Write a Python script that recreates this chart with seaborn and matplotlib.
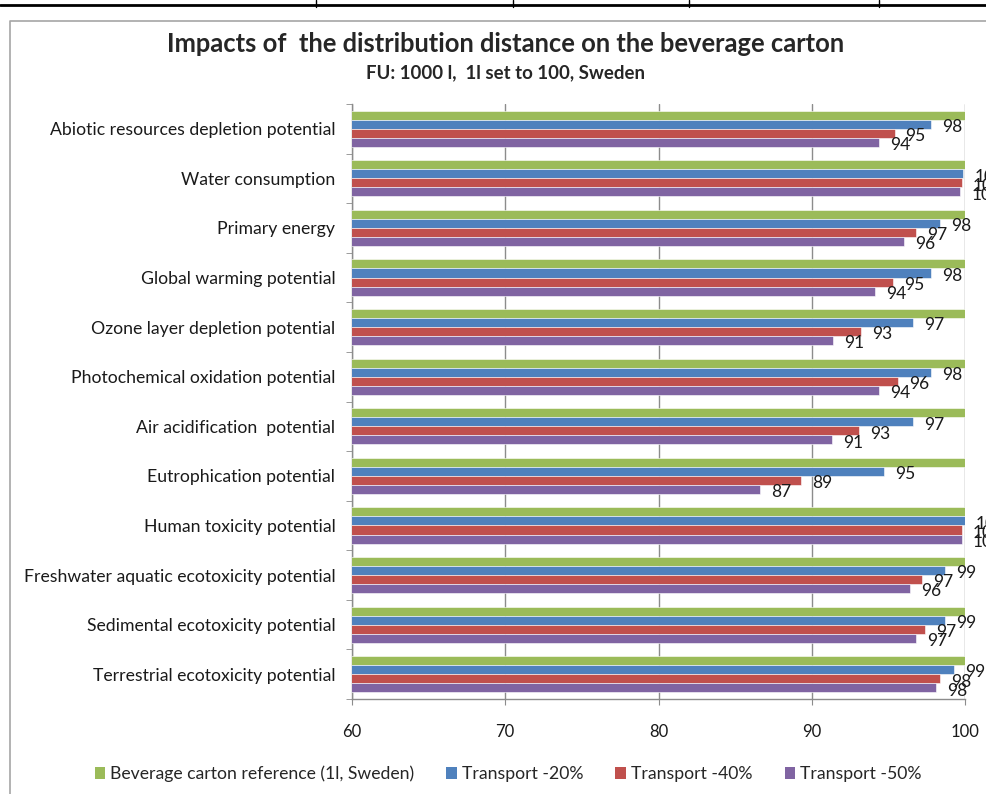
import numpy as np
import pandas as pd
import matplotlib
matplotlib.use("Agg")
import matplotlib.pyplot as plt
from matplotlib import font_manager
from matplotlib.lines import Line2D
from matplotlib.patches import Rectangle
import seaborn as sns

#%% Dados
categorias = [
    "Abiotic resources depletion potential",
    "Water consumption",
    "Primary energy",
    "Global warming potential",
    "Ozone layer depletion potential",
    "Photochemical oxidation potential",
    "Air acidification  potential",
    "Eutrophication potential",
    "Human toxicity potential",
    "Freshwater aquatic ecotoxicity potential",
    "Sedimental ecotoxicity potential",
    "Terrestrial ecotoxicity potential",
]
series = [
    "Beverage carton reference (1l, Sweden)",
    "Transport -20%",
    "Transport -40%",
    "Transport -50%",
]
referencia = [100, 100, 100, 100, 100, 100, 100, 100, 100, 100, 100, 100]
transp_20 = [97.8, 99.9, 98.4, 97.8, 96.6, 97.8, 96.6, 94.7, 100.0, 98.7, 98.7, 99.3]
transp_40 = [95.4, 99.8, 96.8, 95.3, 93.2, 95.6, 93.1, 89.3, 99.8, 97.2, 97.4, 98.4]
transp_50 = [94.4, 99.7, 96.0, 94.1, 91.4, 94.4, 91.3, 86.6, 99.8, 96.4, 96.8, 98.1]
cores = ["#9BBB59", "#4F81BD", "#C0504D", "#8064A2"]

df = pd.DataFrame({"Categoria": categorias * 4,
                   "Serie": np.repeat(series, len(categorias)),
                   "Valor": referencia + transp_20 + transp_40 + transp_50})

#%% Fonte
disponiveis = {f.name for f in font_manager.fontManager.ttflist}
fonte = next((f for f in ["Liberation Sans Narrow", "Lato", "Open Sans"] if f in disponiveis), "DejaVu Sans")
sns.set_style("white")
plt.rcParams["font.family"] = [fonte, "DejaVu Sans"]

#%% Gráfico
fig = plt.figure(figsize=(9.87, 7.94), dpi=100)
ax = fig.add_axes([352 / 987, 1 - 699 / 794, (965 - 352) / 987, (699 - 104) / 794])

sns.barplot(data=df, y="Categoria", x="Valor", hue="Serie", hue_order=series,
            palette=cores, orient="h", width=0.73, ax=ax, saturation=1,
            edgecolor="white", linewidth=0.4, legend=False, zorder=3)

ax.set_xlim(60, 100)
ax.set_xticks([60, 70, 80, 90, 100])
ax.set_ylim(len(categorias) - 0.5, -0.5)
ax.set_xlabel("")
ax.set_ylabel("")
ax.grid(axis="x", color="#8C8C8C", linewidth=1, zorder=0)
ax.grid(axis="y", visible=False)
for lado in ["top", "right"]:
    ax.spines[lado].set_visible(False)
for lado in ["left", "bottom"]:
    ax.spines[lado].set_color("#8C8C8C")
    ax.spines[lado].set_linewidth(1)

ax.set_yticks(np.arange(-0.5, len(categorias), 1), minor=True)
ax.tick_params(axis="y", which="major", length=0, pad=12, labelsize=12.7, labelcolor="#1a1a1a")
ax.tick_params(axis="y", which="minor", left=True, length=4, color="#8C8C8C")
ax.tick_params(axis="x", which="major", bottom=True, length=4, color="#8C8C8C", pad=14,
               labelsize=12, labelcolor="#1a1a1a")

# Rótulos de dados (apenas séries de transporte)
for cont in ax.containers[1:]:
    valores = [b.get_width() for b in cont]
    textos = ax.bar_label(cont, labels=[f"{v:.0f}" for v in valores], padding=8,
                          fontsize=12.5, color="#1a1a1a", clip_on=False)
    for t in textos:
        t.set_va("center")
        x, y = t.xyann
        t.xyann = (x, y - 2)

#%% Títulos
fig.text(0.512, 1 - 44 / 794, "Impacts of  the distribution distance on the beverage carton",
         ha="center", va="center", fontsize=18.4, fontweight="bold")
fig.text(0.512, 1 - 73 / 794, "FU: 1000 l,  1l set to 100, Sweden",
         ha="center", va="center", fontsize=13.4, fontweight="bold")

#%% Legenda
handles = [Rectangle((0, 0), 1, 1, facecolor=c, edgecolor="none") for c in cores]
fig.legend(handles, series, loc="center", bbox_to_anchor=(0.515, 1 - 774 / 794), ncol=4,
           frameon=False, fontsize=12.7, handlelength=0.6, handleheight=0.6,
           handletextpad=0.3, columnspacing=1.8)

#%% Moldura
fig.add_artist(Line2D([10 / 987, 10 / 987, 1.0], [0, 1 - 21 / 794, 1 - 21 / 794],
                      transform=fig.transFigure, color="#A6A6A6", linewidth=1.2))
fig.add_artist(Line2D([0, 1], [1 - 5 / 794, 1 - 5 / 794], transform=fig.transFigure,
                      color="black", linewidth=2))
for xp in [316, 513, 689, 879]:
    fig.add_artist(Line2D([xp / 987, xp / 987], [1, 1 - 7 / 794], transform=fig.transFigure,
                          color="black", linewidth=1))

fig.savefig("out.png", dpi=100)
